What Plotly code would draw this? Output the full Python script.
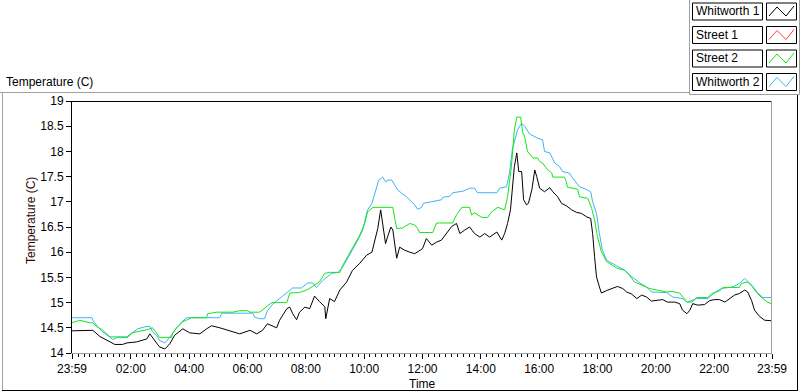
import pandas as pd
import plotly.graph_objects as go

# ---------------- data (minutes after the 23:59 start, temperature in C) -------------
w1_minutes = [0, 43, 57, 78, 88, 104, 113, 133, 154, 160, 170, 180, 191, 201, 211, 228, 242, 263, 277, 287,
              304, 324, 345, 366, 380, 392, 402, 421, 427, 442, 448, 454, 462, 468, 479, 489, 499, 509, 520, 522,
              530, 540, 551, 565, 577, 592, 606, 617, 623, 629, 635, 639, 645, 649, 656, 660, 668, 674, 684, 695,
              705, 721, 729, 740, 750, 760, 771, 781, 791, 798, 808, 818, 828, 839, 849, 859, 874, 884, 890, 896,
              902, 906, 910, 915, 919, 925, 929, 935, 939, 946, 952, 956, 962, 972, 983, 989, 999, 1007, 1017, 1028,
              1038, 1048, 1059, 1067, 1071, 1075, 1079, 1085, 1089, 1100, 1112, 1122, 1133, 1141, 1151, 1162, 1172,
              1182, 1192, 1203, 1215, 1225, 1240, 1250, 1256, 1265, 1271, 1277, 1287, 1301, 1312, 1322, 1332, 1343,
              1353, 1363, 1373, 1384, 1390, 1398, 1404, 1415, 1425, 1440]
w1_temps = [14.44, 14.45, 14.33, 14.22, 14.17, 14.17, 14.2, 14.22, 14.28, 14.38, 14.25, 14.12, 14.08, 14.18, 14.35,
            14.48, 14.4, 14.38, 14.48, 14.54, 14.5, 14.44, 14.38, 14.45, 14.38, 14.45, 14.58, 14.5, 14.65, 14.88,
            14.91, 14.78, 14.66, 14.81, 14.91, 14.88, 15.13, 15.02, 14.92, 14.68, 15.08, 15.02, 15.25, 15.41, 15.64,
            15.78, 15.94, 16.0, 16.24, 16.47, 16.84, 16.57, 16.17, 16.3, 16.5, 16.44, 15.88, 16.1, 16.04, 16.0,
            15.97, 16.07, 16.27, 16.14, 16.2, 16.24, 16.37, 16.51, 16.57, 16.37, 16.44, 16.5, 16.37, 16.3, 16.37,
            16.3, 16.4, 16.24, 16.37, 16.57, 16.84, 17.37, 17.7, 17.97, 17.6, 17.6, 17.04, 16.94, 16.97, 17.24,
            17.63, 17.5, 17.27, 17.2, 17.28, 17.2, 17.1, 16.97, 16.92, 16.84, 16.79, 16.77, 16.7, 16.67, 16.37,
            15.91, 15.51, 15.31, 15.19, 15.24, 15.28, 15.32, 15.28, 15.21, 15.17, 15.08, 15.15, 15.11, 15.03,
            15.04, 15.06, 15.01, 15.01, 14.98, 14.85, 14.78, 14.85, 14.98, 14.95, 14.96, 15.04, 15.06, 15.06,
            15.01, 15.08, 15.15, 15.18, 15.25, 15.21, 15.04, 14.85, 14.72, 14.65, 14.64]

s1_minutes = []
s1_temps = []

s2_minutes = [0, 16, 36, 43, 51, 61, 78, 113, 123, 154, 166, 174, 180, 205, 207, 217, 228, 246, 277, 279, 298, 331,
              345, 361, 366, 386, 400, 411, 442, 448, 468, 485, 509, 520, 530, 551, 557, 571, 581, 592, 602, 608,
              619, 660, 664, 668, 680, 695, 705, 711, 715, 742, 750, 783, 791, 802, 818, 822, 828, 843, 855, 863,
              876, 890, 896, 904, 910, 915, 923, 927, 931, 937, 948, 958, 962, 968, 978, 987, 989, 1013, 1017, 1019,
              1040, 1044, 1061, 1069, 1075, 1081, 1089, 1100, 1112, 1122, 1137, 1147, 1157, 1172, 1188, 1223, 1234,
              1250, 1265, 1275, 1285, 1308, 1316, 1332, 1339, 1373, 1377, 1390, 1400, 1410, 1421, 1431, 1440]
s2_temps = [14.6, 14.65, 14.6, 14.6, 14.52, 14.47, 14.32, 14.32, 14.4, 14.46, 14.5, 14.39, 14.31, 14.31, 14.39,
            14.52, 14.62, 14.7, 14.7, 14.78, 14.81, 14.81, 14.84, 14.84, 14.81, 14.81, 14.91, 15.0, 15.0, 15.19,
            15.2, 15.26, 15.41, 15.58, 15.6, 15.6, 15.74, 15.98, 16.17, 16.34, 16.57, 16.8, 16.89, 16.89, 16.67,
            16.47, 16.48, 16.57, 16.54, 16.47, 16.39, 16.39, 16.58, 16.58, 16.74, 16.89, 16.89, 16.74, 16.78,
            16.69, 16.69, 16.8, 16.89, 16.84, 17.1, 17.7, 18.43, 18.68, 18.68, 18.38, 18.3, 18.0, 17.87, 17.87,
            17.8, 17.77, 17.64, 17.57, 17.49, 17.49, 17.4, 17.29, 17.25, 17.1, 17.07, 16.87, 16.64, 16.31, 16.01,
            15.81, 15.74, 15.68, 15.64, 15.54, 15.41, 15.35, 15.28, 15.21, 15.22, 15.19, 15.01, 15.01, 15.1, 15.1,
            15.18, 15.23, 15.3, 15.3, 15.38, 15.41, 15.31, 15.18, 15.08, 15.01, 14.97]

w2_minutes = [0, 41, 43, 53, 63, 78, 84, 94, 115, 123, 135, 150, 160, 166, 174, 180, 191, 201, 211, 226, 236, 304,
              308, 372, 376, 386, 396, 402, 413, 427, 442, 454, 472, 485, 495, 503, 516, 534, 547, 555, 565, 577,
              588, 598, 608, 617, 623, 631, 639, 645, 651, 658, 664, 670, 678, 688, 699, 705, 711, 719, 723, 742,
              760, 763, 777, 783, 804, 818, 828, 834, 874, 880, 894, 900, 906, 917, 925, 931, 941, 956, 968, 972,
              983, 993, 1003, 1009, 1023, 1030, 1044, 1059, 1067, 1071, 1079, 1085, 1091, 1100, 1112, 1126, 1137,
              1151, 1168, 1182, 1192, 1223, 1236, 1256, 1266, 1285, 1308, 1322, 1336, 1359, 1373, 1384, 1392, 1400,
              1410, 1421, 1440]
w2_temps = [14.7, 14.7, 14.65, 14.52, 14.42, 14.32, 14.27, 14.31, 14.31, 14.39, 14.48, 14.52, 14.53, 14.42, 14.35,
            14.25, 14.2, 14.31, 14.45, 14.62, 14.7, 14.7, 14.79, 14.79, 14.71, 14.68, 14.68, 14.84, 14.97, 15.08,
            15.19, 15.29, 15.29, 15.39, 15.39, 15.3, 15.44, 15.58, 15.6, 15.68, 15.84, 16.04, 16.24, 16.44, 16.84,
            16.97, 17.17, 17.43, 17.49, 17.4, 17.43, 17.43, 17.33, 17.24, 17.17, 17.1, 17.0, 16.94, 16.85, 16.89,
            16.97, 17.0, 17.04, 17.09, 17.11, 17.18, 17.21, 17.27, 17.27, 17.18, 17.18, 17.27, 17.3, 17.57, 18.05,
            18.44, 18.56, 18.5, 18.35, 18.27, 18.23, 18.0, 17.97, 17.77, 17.7, 17.6, 17.57, 17.47, 17.3, 17.24,
            17.2, 17.0, 16.77, 16.37, 16.04, 15.84, 15.77, 15.7, 15.64, 15.52, 15.39, 15.31, 15.21, 15.2, 15.11,
            15.08, 15.01, 15.08, 15.08, 15.2, 15.28, 15.31, 15.38, 15.48, 15.41, 15.33, 15.2, 15.1, 15.1]

series_names = ["Whitworth 1", "Street 1", "Street 2", "Whitworth 2"]
series_colors = ["#000000", "#ff3a3a", "#14e614", "#3cb4f5"]

x_tick_labels = ["23:59", "02:00", "04:00", "06:00", "08:00", "10:00", "12:00",
                 "14:00", "16:00", "18:00", "20:00", "22:00", "23:59"]
y_tick_values = [14, 14.5, 15, 15.5, 16, 16.5, 17, 17.5, 18, 18.5, 19]
y_tick_labels = ["14", "14.5", "15", "15.5", "16", "16.5", "17", "17.5", "18", "18.5", "19"]

# ---------------- build ----------------
start = pd.Timestamp("2024-01-01 23:59")
end = start + pd.Timedelta(minutes=1440)


def to_time(mins):
    return [start + pd.Timedelta(minutes=m) for m in mins]


tick_vals = []
for i, lab in enumerate(x_tick_labels):
    if i == 0:
        tick_vals.append(start)
    elif i == len(x_tick_labels) - 1:
        tick_vals.append(end)
    else:
        tick_vals.append(pd.Timestamp("2024-01-02 " + lab))

all_minutes = [w1_minutes, s1_minutes, s2_minutes, w2_minutes]
all_temps = [w1_temps, s1_temps, s2_temps, w2_temps]

W, H = 800, 392
L, R, T, B = 72, 772, 101, 353
FONT = "Liberation Sans"

fig = go.Figure()
# draw order: Whitworth 2 and Street 2 behind, Whitworth 1 on top
for idx in [3, 1, 2, 0]:
    fig.add_trace(go.Scatter(
        x=to_time(all_minutes[idx]), y=all_temps[idx], mode="lines",
        name=series_names[idx], line=dict(color=series_colors[idx], width=1),
        showlegend=False, hoverinfo="skip"))


def px(xp):
    return (xp - L) / (R - L)


def py(yp):
    return (B - yp) / (B - T)


shapes = []


def line(x0, y0, x1, y1, color, w=1):
    shapes.append(dict(type="line", xref="paper", yref="paper",
                       x0=px(x0), y0=py(y0), x1=px(x1), y1=py(y1),
                       line=dict(color=color, width=w), layer="above"))


# plot area top / right
line(L, T + 0.5, R, T + 0.5, "#000000")
line(R - 0.5, T, R - 0.5, B, "#a0a0a0")
# outer frame
line(0, 92.5, 689.5, 92.5, "#a0a0a0")
line(2.5, 92.5, 2.5, 390.5, "#a0a0a0")
line(2, 390.5, 798, 390.5, "#000000")
line(797.5, 95, 797.5, 390.5, "#000000")
# legend panel
line(689.5, 0, 689.5, 94.5, "#a0a0a0")
line(689.5, 94.5, 799.5, 94.5, "#a0a0a0")
line(799.5, 0, 799.5, 94.5, "#a0a0a0")

annotations = []
row_top = [3, 26.5, 50, 73.5]
for i, name in enumerate(series_names):
    t = row_top[i]
    b = t + 17
    shapes.append(dict(type="rect", xref="paper", yref="paper",
                       x0=px(692.5), x1=px(762.5), y0=py(b), y1=py(t),
                       line=dict(color="#000000", width=1), fillcolor="white", layer="above"))
    shapes.append(dict(type="rect", xref="paper", yref="paper",
                       x0=px(766.5), x1=px(796.5), y0=py(b), y1=py(t),
                       line=dict(color="#000000", width=1), fillcolor="white", layer="above"))
    zz = [(769, b - 4), (777, t + 4), (786, b - 4), (794, t + 3)]
    path = "M " + " L ".join(f"{px(a)},{py(c)}" for a, c in zz)
    shapes.append(dict(type="path", xref="paper", yref="paper", path=path,
                       line=dict(color=series_colors[i], width=1), layer="above"))
    annotations.append(dict(xref="paper", yref="paper", x=px(694), y=py((t + b) / 2),
                            xanchor="left", yanchor="middle", text=name, showarrow=False,
                            font=dict(family=FONT, size=12, color="#000000")))

annotations.append(dict(xref="paper", yref="paper", x=px(4), y=py(82), xanchor="left",
                        yanchor="middle", text="Temperature (C)", showarrow=False,
                        font=dict(family=FONT, size=12, color="#000000")))
annotations.append(dict(xref="paper", yref="paper", x=px(31), y=py(221), xanchor="center",
                        yanchor="middle", text="Temperature (C)", textangle=-90, showarrow=False,
                        font=dict(family=FONT, size=12, color="#2a0808")))
annotations.append(dict(xref="paper", yref="paper", x=px(422), y=py(384), xanchor="center",
                        yanchor="middle", text="Time", showarrow=False,
                        font=dict(family=FONT, size=12, color="#000000")))

fig.update_layout(
    width=W, height=H, autosize=False,
    margin=dict(l=L, r=W - R, t=T, b=H - B, pad=0),
    plot_bgcolor="white", paper_bgcolor="white",
    showlegend=False,
    font=dict(family=FONT, size=12, color="#000000"),
    shapes=shapes, annotations=annotations,
    xaxis=dict(type="date", range=[start, end], tickmode="array", tickvals=tick_vals,
               ticktext=x_tick_labels, ticks="outside", ticklen=5, tickcolor="#000000",
               showline=True, linecolor="#a0a0a0", linewidth=1, showgrid=False, zeroline=False,
               tickfont=dict(family=FONT, size=12, color="#000000"),
               minor=dict(tickmode="linear", tick0="2024-01-02 00:00", dtick=12 * 60 * 1000,
                          ticks="outside", ticklen=3, tickcolor="#000000", showgrid=False)),
    yaxis=dict(range=[14, 19], tickmode="array", tickvals=y_tick_values, ticktext=y_tick_labels,
               ticks="outside", ticklen=5, tickcolor="#000000", showline=True, linecolor="#000000",
               linewidth=1, showgrid=False, zeroline=False,
               tickfont=dict(family=FONT, size=12, color="#000000")),
)

fig.write_html("out.html", config={"displayModeBar": False},
               post_script="document.body.style.margin='0px';")
